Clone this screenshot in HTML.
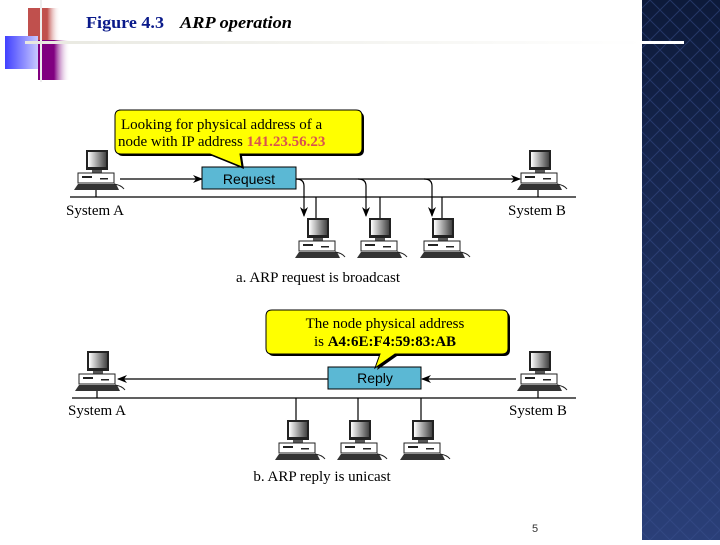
<!DOCTYPE html>
<html><head><style>
body{margin:0;width:720px;height:540px;overflow:hidden;background:#fff;font-family:"Liberation Serif",serif}
</style></head><body>
<svg width="720" height="540" viewBox="0 0 720 540" xmlns="http://www.w3.org/2000/svg">
<defs>
<linearGradient id="rg" x1="0" x2="1"><stop offset="0" stop-color="#c0504d"/><stop offset="0.6" stop-color="#c0504d"/><stop offset="1" stop-color="#fff" stop-opacity="0"/></linearGradient>
<linearGradient id="pg" x1="0" x2="1"><stop offset="0" stop-color="#800080"/><stop offset="0.5" stop-color="#800080"/><stop offset="1" stop-color="#fff" stop-opacity="0"/></linearGradient>
<linearGradient id="bg" x1="0" x2="1"><stop offset="0" stop-color="#4040ff"/><stop offset="1" stop-color="#c8c8ff"/></linearGradient>
<linearGradient id="hl" x1="0" x2="1"><stop offset="0" stop-color="#e8e8e0"/><stop offset="1" stop-color="#fff"/></linearGradient>
<linearGradient id="nv" x1="0" y1="0" x2="0" y2="1"><stop offset="0" stop-color="#0d1a3a"/><stop offset="1" stop-color="#2a3f78"/></linearGradient>
<pattern id="dm" width="20" height="20" patternUnits="userSpaceOnUse"><path d="M10 0L20 10L10 20L0 10Z" fill="none" stroke="#3a5090" stroke-width="1" opacity="0.5"/></pattern>
<linearGradient id="mon" x1="0" x2="1"><stop offset="0" stop-color="#fff"/><stop offset="1" stop-color="#444"/></linearGradient>
<g id="pc">
<rect x="12" y="0" width="22" height="20" fill="#222"/>
<rect x="14" y="2" width="18" height="15" fill="url(#mon)"/>
<rect x="18" y="20" width="10" height="3" fill="#555"/>
<rect x="4" y="23" width="36" height="10" fill="#fff" stroke="#222"/>
<rect x="8" y="26" width="10" height="2" fill="#222"/><rect x="26" y="28" width="8" height="1.5" fill="#222"/>
<path d="M0 40L4 34H42L45 40Z" fill="#333"/>
<path d="M40 34Q47 35 50 39" fill="none" stroke="#222"/>
</g>
<marker id="ar" markerWidth="10" markerHeight="8" refX="9" refY="4" orient="auto" markerUnits="userSpaceOnUse"><path d="M0 0L10 4L0 8L3 4Z" fill="#000"/></marker>
</defs>
<rect x="642" y="0" width="78" height="540" fill="url(#nv)"/>
<rect x="642" y="0" width="78" height="540" fill="url(#dm)"/>
<rect x="28" y="8" width="32" height="40" fill="url(#rg)"/>
<rect x="38" y="40" width="32" height="40" fill="url(#pg)"/>
<rect x="5" y="36" width="33" height="33" fill="url(#bg)"/>
<rect x="40" y="0" width="2" height="82" fill="#eee"/>
<rect x="25" y="41" width="620" height="3" fill="url(#hl)"/>
<rect x="642" y="41" width="42" height="3" fill="#fff"/>
<text x="86" y="28" font-size="17" font-weight="bold" fill="#0a1a8a" textLength="78" lengthAdjust="spacingAndGlyphs">Figure 4.3</text>
<text x="180" y="28" font-size="17" font-weight="bold" font-style="italic" textLength="112" lengthAdjust="spacingAndGlyphs">ARP operation</text>

<g stroke="#000" stroke-width="1.2">
<line x1="70" y1="197" x2="576" y2="197"/>
<line x1="96" y1="189" x2="96" y2="197"/><line x1="538" y1="189" x2="538" y2="197"/>
<line x1="316" y1="197" x2="316" y2="222"/><line x1="380" y1="197" x2="380" y2="222"/><line x1="442" y1="197" x2="442" y2="222"/>
<line x1="120" y1="179" x2="202" y2="179" marker-end="url(#ar)"/>
<line x1="296" y1="179" x2="520" y2="179" marker-end="url(#ar)"/>
<path d="M296 179Q304 179 304 186V216" fill="none" marker-end="url(#ar)"/>
<path d="M358 179Q366 179 366 186V216" fill="none" marker-end="url(#ar)"/>
<path d="M424 179Q432 179 432 186V216" fill="none" marker-end="url(#ar)"/>
</g>
<use href="#pc" x="74" y="150"/><use href="#pc" x="517" y="150"/>
<use href="#pc" x="295" y="218"/><use href="#pc" x="357" y="218"/><use href="#pc" x="420" y="218"/>
<rect x="202" y="167" width="94" height="22" fill="#5bb8d4" stroke="#000"/>
<text x="249" y="184" font-size="14" text-anchor="middle" font-family="Liberation Sans,sans-serif">Request</text>
<path d="M119 110H356Q362 110 362 116V148Q362 154 356 154H240L242 167L210 154H121Q115 154 115 148V116Q115 110 121 110Z" fill="#000" transform="translate(2,2)"/>
<path d="M119 110H356Q362 110 362 116V148Q362 154 356 154H240L242 167L210 154H121Q115 154 115 148V116Q115 110 121 110Z" fill="#ffff00" stroke="#000"/>
<text x="121" y="129" font-size="15">Looking for physical address of a</text>
<text x="118" y="146" font-size="15">node with IP address <tspan fill="#d9534f" font-weight="bold">141.23.56.23</tspan></text>
<text x="66" y="215" font-size="15">System A</text>
<text x="508" y="215" font-size="15">System B</text>
<text x="318" y="282" font-size="15" text-anchor="middle">a. ARP request is broadcast</text>

<g stroke="#000" stroke-width="1.2">
<line x1="72" y1="398" x2="576" y2="398"/>
<line x1="97" y1="390" x2="97" y2="398"/><line x1="538" y1="390" x2="538" y2="398"/>
<line x1="296" y1="398" x2="296" y2="420"/><line x1="358" y1="398" x2="358" y2="420"/><line x1="421" y1="398" x2="421" y2="420"/>
<line x1="328" y1="379" x2="118" y2="379" marker-end="url(#ar)"/>
<line x1="516" y1="379" x2="422" y2="379" marker-end="url(#ar)"/>
</g>
<use href="#pc" x="75" y="351"/><use href="#pc" x="517" y="351"/>
<use href="#pc" x="275" y="420"/><use href="#pc" x="337" y="420"/><use href="#pc" x="400" y="420"/>
<rect x="328" y="367" width="93" height="22" fill="#5bb8d4" stroke="#000"/>
<text x="375" y="383" font-size="14" text-anchor="middle" font-family="Liberation Sans,sans-serif">Reply</text>
<path d="M272 310H502Q508 310 508 316V348Q508 354 502 354H395L375 368L380 354H272Q266 354 266 348V316Q266 310 272 310Z" fill="#000" transform="translate(2,2)"/>
<path d="M272 310H502Q508 310 508 316V348Q508 354 502 354H395L375 368L380 354H272Q266 354 266 348V316Q266 310 272 310Z" fill="#ffff00" stroke="#000"/>
<text x="385" y="328" font-size="15" text-anchor="middle">The node physical address</text>
<text x="385" y="346" font-size="15" text-anchor="middle">is <tspan font-weight="bold">A4:6E:F4:59:83:AB</tspan></text>
<text x="68" y="415" font-size="15">System A</text>
<text x="509" y="415" font-size="15">System B</text>
<text x="322" y="481" font-size="15" text-anchor="middle">b. ARP reply is unicast</text>
<text x="532" y="532" font-size="11" font-family="Liberation Sans,sans-serif" fill="#333">5</text>
</svg>
</body></html>
